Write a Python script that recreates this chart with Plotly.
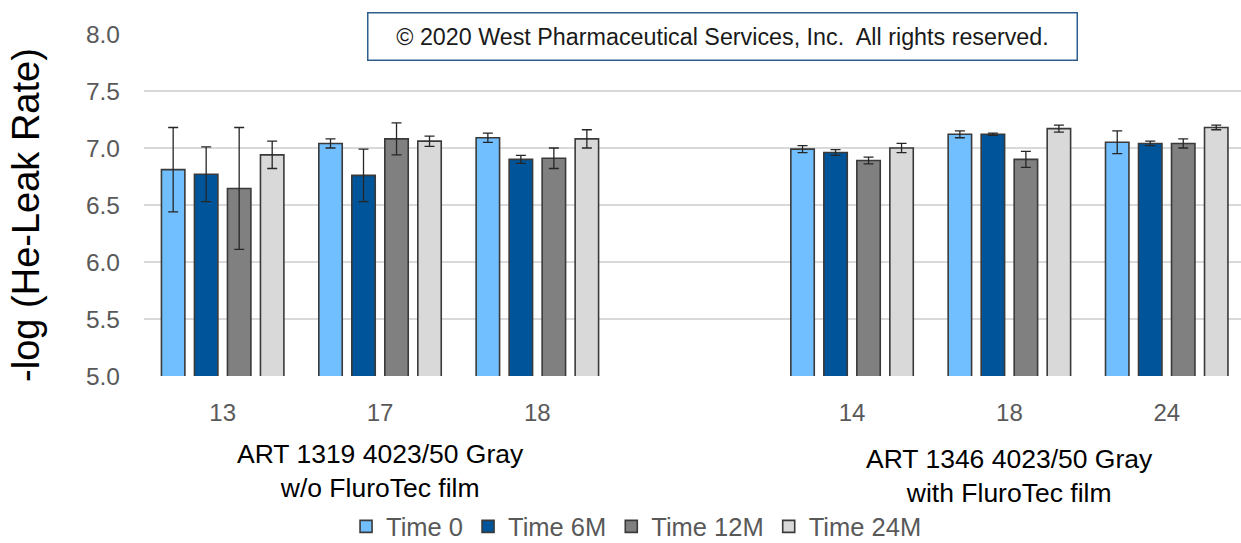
import plotly.graph_objects as go

# Category positions along the x axis (position 3 is the gap between the two materials)
positions = [0, 1, 2, 4, 5, 6]
tick_labels = ["13", "17", "18", "14", "18", "24"]

series_names = ["Time 0", "Time 6M", "Time 12M", "Time 24M"]
time_0 = [6.81, 7.04, 7.09, 6.99, 7.12, 7.05]
time_0_err = [0.37, 0.04, 0.04, 0.03, 0.03, 0.10]
time_6m = [6.77, 6.76, 6.90, 6.96, 7.12, 7.04]
time_6m_err = [0.24, 0.23, 0.035, 0.025, 0.01, 0.02]
time_12m = [6.645, 7.08, 6.91, 6.89, 6.90, 7.04]
time_12m_err = [0.535, 0.14, 0.09, 0.03, 0.07, 0.04]
time_24m = [6.94, 7.06, 7.08, 7.00, 7.17, 7.18]
time_24m_err = [0.12, 0.045, 0.08, 0.04, 0.03, 0.02]

group_labels = ["ART 1319 4023/50 Gray<br>w/o FluroTec film",
                "ART 1346 4023/50 Gray<br>with FluroTec film"]
group_positions = [1, 5]

colors = ["#71BFFF", "#00559A", "#808080", "#D9D9D9"]
values = [time_0, time_6m, time_12m, time_24m]
errors = [time_0_err, time_6m_err, time_12m_err, time_24m_err]

FONT = "Liberation Sans, Arial, sans-serif"

fig = go.Figure()
for name, vals, errs, col in zip(series_names, values, errors, colors):
    fig.add_trace(go.Bar(
        x=positions, y=vals, name=name,
        marker=dict(color=col, line=dict(color="#3A3A3A", width=1.6)),
        error_y=dict(type="data", array=errs, visible=True,
                     color="#262626", thickness=1.3, width=5),
    ))

fig.update_layout(
    width=1241, height=543,
    margin=dict(l=144, r=0, t=33.5, b=167, autoexpand=False),
    paper_bgcolor="white", plot_bgcolor="white",
    barmode="group", bargap=0.161, bargroupgap=0.29,
    font=dict(family=FONT, color="#595959"),
    showlegend=True,
    legend=dict(orientation="h", x=0.449, xanchor="center", y=-0.441, yanchor="middle",
                font=dict(size=25.5, color="#595959"), itemclick=False),
    xaxis=dict(range=[-0.5, 6.472], tickmode="array", tickvals=positions,
               ticktext=tick_labels, showgrid=False, zeroline=False, showline=False,
               ticks="", ticklabelstandoff=20,
               tickfont=dict(size=24, color="#595959")),
    yaxis=dict(range=[5, 8], dtick=0.5, tick0=5, tickformat=".1f",
               showgrid=True, gridcolor="#D9D9D9", gridwidth=1.5,
               zeroline=False, showline=False, ticks="", ticklabelstandoff=23,
               tickfont=dict(size=24.5, color="#595959")),
)

# Y-axis title
fig.add_annotation(text="-log (He-Leak Rate)", xref="paper", yref="paper",
                   x=-0.107, y=0.47, xanchor="center", yanchor="middle",
                   textangle=-90, showarrow=False,
                   font=dict(size=38, color="#000000", family=FONT))

# Material group labels under the category ticks
for lbl, gx, gy in zip(group_labels, group_positions, [-0.277, -0.291]):
    fig.add_annotation(text=lbl, xref="x", yref="paper", x=gx, y=gy,
                       xanchor="center", yanchor="middle", showarrow=False,
                       font=dict(size=26.5, color="#000000", family=FONT))

# Copyright box
fig.add_annotation(text="© 2020 West Pharmaceutical Services, Inc.  All rights reserved.",
                   xref="paper", yref="paper", x=0.5278, y=0.9927,
                   xanchor="center", yanchor="middle", showarrow=False,
                   width=706, height=44, borderpad=1,
                   bordercolor="#2E5E8C", borderwidth=1.5, bgcolor="white",
                   font=dict(size=23.3, color="#1A1A1A", family=FONT))

fig.write_html("out.html")
